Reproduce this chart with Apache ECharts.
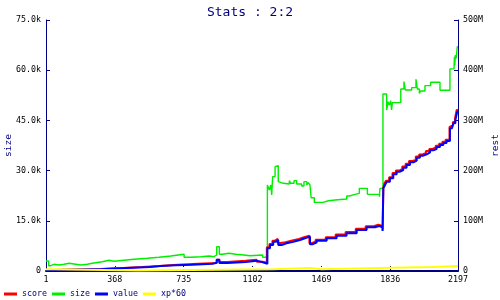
<!DOCTYPE html>
<html>
<head>
<meta charset="utf-8">
<script src="https://cdn.jsdelivr.net/npm/echarts@6/dist/echarts.min.js"></script>
<style>html,body{margin:0;padding:0;background:#fff;}#c{width:500px;height:300px;}</style>
</head>
<body>
<div id="c"></div>
<script>
// x tick labels
const xTicks = [1, 368, 735, 1102, 1469, 1836, 2197];
const seriesNames = ['score', 'size', 'value', 'xp*60'];

// size (left axis) : [index, size]
const sizeData = [
  [1, 2988], [15, 1584], [26, 2002], [44, 1793], [70, 2002], [97, 2300], [124, 2092], [150, 1793],
  [186, 2002], [221, 2300], [248, 2779], [301, 3197], [337, 2898], [363, 3197], [417, 3496], [470, 3795],
  [541, 4094], [603, 4482], [666, 4990], [737, 4094], [772, 4273], [826, 4482], [870, 4273], [896, 4781],
  [911, 7261], [925, 4990], [941, 5289], [976, 4990], [1012, 4781], [1056, 4572], [1088, 4781], [1156, 4094],
  [1181, 25700], [1191, 24200], [1199, 25700], [1204, 22700], [1209, 28200], [1222, 31200], [1227, 31500],
  [1239, 26700], [1248, 26200], [1266, 26000], [1298, 27000], [1305, 26200], [1323, 27000], [1337, 26000],
  [1364, 25400], [1376, 26700], [1391, 25700], [1399, 26400], [1408, 25700], [1414, 21900], [1431, 20500],
  [1479, 21000], [1506, 21200], [1542, 21500], [1604, 22400], [1618, 22900], [1648, 23200], [1671, 24700],
  [1714, 22900], [1778, 22200], [1781, 24700], [1797, 52900], [1817, 48100], [1824, 50600], [1831, 49600],
  [1838, 50900], [1843, 48100], [1847, 50300], [1892, 54400], [1909, 56600], [1916, 54100], [1950, 54800],
  [1973, 57300], [1980, 54400], [1991, 53100], [1998, 53800], [2021, 55400], [2051, 56400], [2101, 54000],
  [2154, 60400], [2176, 61000], [2178, 64000], [2180, 61500], [2183, 64500], [2187, 63500], [2193, 67000],
  [2197, 67000]
];

// value (right axis, millions) : [index, value]
const valueData = [
  [1, 2], [44, 4], [310, 6], [429, 8], [555, 10], [612, 11.3], [692, 12.6], [781, 14.6], [888, 16.6],
  [911, 22.6], [925, 15.9], [968, 17.9], [1065, 20.6], [1124, 17.3], [1156, 14.6], [1181, 45.2],
  [1195, 51.8], [1212, 58.4], [1227, 61.8], [1239, 51.8], [1257, 55.2], [1283, 58.4], [1319, 61.8],
  [1355, 65.1], [1381, 68.4], [1408, 53.2], [1420, 56.5], [1443, 60.5], [1497, 65.1], [1550, 70.4],
  [1603, 75.1], [1657, 81.7], [1710, 87.1], [1754, 89.6], [1777, 87.1], [1795, 79.7], [1799, 164.7],
  [1808, 171.3], [1817, 177.9], [1834, 184.7], [1852, 192.6], [1870, 197.8], [1888, 201.2], [1905, 205.8],
  [1923, 211.2], [1941, 216.5], [1959, 219.7], [1977, 225.7], [1994, 229.7], [2012, 232.5], [2030, 236.4],
  [2048, 240.4], [2065, 243], [2083, 247], [2101, 251], [2119, 255], [2136, 259], [2154, 284.2],
  [2165, 287.5], [2172, 294.2], [2183, 300.8], [2193, 317.3], [2197, 317.3]
];

// score (right axis, millions) : [index, score]
const scoreData = [
  [1, 2], [44, 4], [292, 6], [412, 8], [514, 10], [605, 12], [682, 14], [781, 16], [911, 22.6],
  [925, 18], [968, 20.6], [1065, 22.6], [1124, 18.6], [1156, 16.6], [1178, 47.5], [1192, 54],
  [1208, 60.5], [1222, 64], [1236, 56], [1252, 57.5], [1278, 61], [1314, 64], [1350, 67.5], [1376, 70.5],
  [1405, 55.5], [1416, 58.5], [1438, 62.5], [1492, 67], [1545, 72.5], [1598, 77.5], [1652, 84],
  [1705, 89], [1748, 92], [1772, 89.5], [1795, 82], [1799, 166], [1804, 174], [1813, 180], [1830, 187],
  [1848, 195], [1866, 200], [1884, 203.5], [1900, 208], [1918, 213.5], [1936, 219], [1954, 222],
  [1972, 228], [1990, 232], [2008, 235], [2026, 239], [2044, 243], [2060, 245.5], [2078, 249.5],
  [2096, 253.5], [2114, 257.5], [2131, 261.5], [2152, 287], [2162, 290], [2170, 297], [2181, 304],
  [2190, 320.7], [2197, 320.7]
];

// xp*60 (right axis, millions)
const xpData = [
  [1, 3.4], [44, 1.2], [490, 3.4], [1212, 6], [1408, 3.4], [1470, 6], [1772, 8], [2065, 10], [2197, 10]
];

const navy = '#000080';
const mono = 'DejaVu Sans Mono';
const tickFont = {fontFamily: mono, fontSize: 8.3, color: '#000'};

const chart = echarts.init(document.getElementById('c'), null, {renderer: 'canvas'});
chart.setOption({
  animation: false,
  backgroundColor: '#fff',
  title: {
    text: 'Stats : 2:2', left: 'center', top: 1,
    textStyle: {fontFamily: mono, fontSize: 13, fontWeight: 'normal', color: navy}
  },
  legend: {
    data: seriesNames, left: 4, top: 290, padding: 0, icon: 'rect', itemWidth: 13, itemHeight: 3, itemGap: 5,
    textStyle: {fontFamily: mono, fontSize: 8.3, color: navy, width: 26}
  },
  grid: {left: 46, right: 42, top: 20, bottom: 29, containLabel: false, outerBoundsMode: 'none'},
  xAxis: {
    type: 'value', min: 1, max: 2197,
    axisLine: {show: true, lineStyle: {color: navy, width: 2}},
    axisTick: {show: true, inside: true, length: 5, customValues: xTicks, lineStyle: {color: navy, type: [2, 2]}},
    axisLabel: {customValues: xTicks, margin: 5, ...tickFont, formatter: v => String(v)},
    splitLine: {show: false}
  },
  yAxis: [
    {
      type: 'value', min: 0, max: 75000, interval: 15000, position: 'left',
      name: 'size', nameLocation: 'middle', nameGap: 32, nameRotate: 90, nameMoveOverlap: false,
      nameTextStyle: {fontFamily: mono, fontSize: 9.5, color: navy},
      axisLine: {show: true, lineStyle: {color: navy, width: 1}},
      axisTick: {show: true, inside: true, length: 4, lineStyle: {color: navy}},
      axisLabel: {margin: 5, ...tickFont, formatter: v => v === 0 ? '0' : (v / 1000).toFixed(1) + 'k'},
      splitLine: {show: false}
    },
    {
      type: 'value', min: 0, max: 500, interval: 100, position: 'right',
      name: 'rest', nameLocation: 'middle', nameGap: 33, nameRotate: 90, nameMoveOverlap: false,
      nameTextStyle: {fontFamily: mono, fontSize: 9.5, color: navy},
      axisLine: {show: true, lineStyle: {color: navy, width: 1}},
      axisTick: {show: true, inside: true, length: 4, lineStyle: {color: navy}},
      axisLabel: {margin: 5, ...tickFont, formatter: v => v === 0 ? '0' : v + 'M'},
      splitLine: {show: false}
    }
  ],
  series: [
    {name: 'score', type: 'line', yAxisIndex: 1, step: 'end', data: scoreData, showSymbol: false, symbol: 'none',
     color: '#ff0000', lineStyle: {width: 2, color: '#ff0000'}, z: 2},
    {name: 'size', type: 'line', yAxisIndex: 0, step: 'end', data: sizeData, showSymbol: false, symbol: 'none',
     color: '#00ee00', lineStyle: {width: 1.4, color: '#00ee00'}, z: 1},
    {name: 'value', type: 'line', yAxisIndex: 1, step: 'end', data: valueData, showSymbol: false, symbol: 'none',
     color: '#0000ff', lineStyle: {width: 2, color: '#0000ff'}, z: 3},
    {name: 'xp*60', type: 'line', yAxisIndex: 1, step: 'end', data: xpData, showSymbol: false, symbol: 'none',
     color: '#ffff00', lineStyle: {width: 2, color: '#ffff00'}, z: 4}
  ]
});
</script>
</body>
</html>
